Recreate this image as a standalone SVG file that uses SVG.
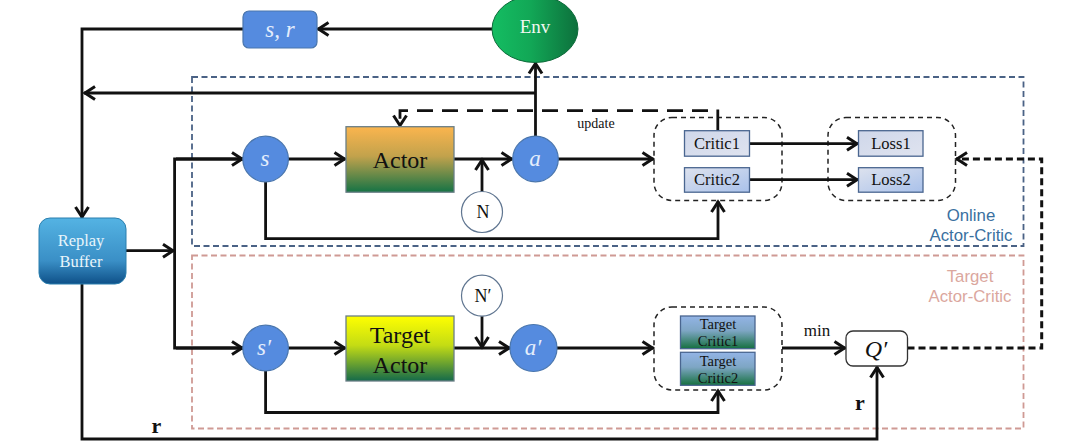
<svg xmlns="http://www.w3.org/2000/svg" width="1077" height="446" viewBox="0 0 1077 446">
<style>
text{font-family:"Liberation Serif","Times New Roman",serif;text-anchor:middle;fill:#111}
.sans{font-family:"Liberation Sans",Arial,sans-serif;font-size:16.8px}
.c{fill:none;stroke:#111;stroke-width:2.8;marker-end:url(#arrow)}
.p{fill:none;stroke:#111;stroke-width:2.8}
.dot{fill:#558bdf;stroke:#4a76ad;stroke-width:1.2}
.var{font-style:italic;fill:#e4eefc;font-size:23px}
.grp{fill:none;stroke:#222;stroke-width:1.5;stroke-dasharray:5 4}
.n{fill:#fff;stroke:#5f7590;stroke-width:1.2}
.box{stroke:#4a6690;stroke-width:1.3}
</style>
<defs>
<marker id="arrow" markerUnits="userSpaceOnUse" markerWidth="16" markerHeight="18" viewBox="0 0 16 18" refX="12.500" refY="9" orient="auto">
<path d="M1.500 2.500L11.500 9L1.500 15.500" fill="none" stroke="#111" stroke-width="3"/>
</marker>
<linearGradient id="gActor" x1="0" y1="0" x2="0" y2="1"><stop offset="0" stop-color="#fbb54e"/><stop offset=".45" stop-color="#c2a24c"/><stop offset="1" stop-color="#157345"/></linearGradient>
<linearGradient id="gTA" x1="0" y1="0" x2="0" y2="1"><stop offset="0" stop-color="#ffff00"/><stop offset=".45" stop-color="#c4dc14"/><stop offset="1" stop-color="#146a4a"/></linearGradient>
<linearGradient id="gTC" x1="0" y1="0" x2="0" y2="1"><stop offset="0" stop-color="#93b4e6"/><stop offset=".45" stop-color="#7ea6c4"/><stop offset="1" stop-color="#15703f"/></linearGradient>
<linearGradient id="gC1" x1="0" y1="0" x2="1" y2="1"><stop offset="0" stop-color="#cfd7ea"/><stop offset="1" stop-color="#dfe3ef"/></linearGradient>
<linearGradient id="gC2" x1="0" y1="0" x2="1" y2="1"><stop offset="0" stop-color="#dde2ee"/><stop offset="1" stop-color="#a9c1ea"/></linearGradient>
<linearGradient id="gRB" x1="0" y1="0" x2="0" y2="1"><stop offset="0" stop-color="#54b3e3"/><stop offset=".65" stop-color="#3a8fc6"/><stop offset="1" stop-color="#0e5088"/></linearGradient>
<linearGradient id="gEnv" x1="0" y1="0" x2="1" y2="0"><stop offset="0" stop-color="#14bd62"/><stop offset=".45" stop-color="#12a756"/><stop offset="1" stop-color="#0d703c"/></linearGradient>
</defs>

<g id="online-region">
<rect x="192" y="77" width="831.500" height="169" fill="none" stroke="#4a6285" stroke-width="1.8" stroke-dasharray="6 3.500"/>
<text class="sans" x="971" y="220.500" style="fill:#3a70a0">Online</text>
<text class="sans" x="971" y="240.500" style="fill:#3a70a0">Actor-Critic</text>
</g>
<g id="target-region">
<rect x="192" y="255.500" width="831.500" height="173" fill="none" stroke="#cf9a94" stroke-width="1.8" stroke-dasharray="6 3.500"/>
<text class="sans" x="970" y="282" style="fill:#dba79e">Target</text>
<text class="sans" x="970" y="302" style="fill:#dba79e">Actor-Critic</text>
</g>

<g id="critic-group"><rect class="grp" x="654" y="117.500" width="128" height="83" rx="18"/></g>
<g id="loss-group"><rect class="grp" x="828" y="117.500" width="127.500" height="83" rx="18"/></g>
<g id="target-critic-group"><rect class="grp" x="654" y="307" width="128" height="83" rx="18"/></g>

<g id="connectors">
<path class="c" d="M492 29H317.500"/>
<path class="c" d="M243 29H82V218"/>
<path class="c" d="M535 93H84"/>
<path class="c" d="M535.500 136V62.500"/>
<path class="c" d="M708 110.700H400V126.500" stroke-dasharray="16 9"/>
<path class="p" d="M717.800 130.500V109.500"/>
<path class="c" d="M288 159H345.500"/>
<path class="c" d="M454 159H512.500"/>
<path class="c" d="M482 192V159"/>
<path class="c" d="M558 159H653.500"/>
<path class="c" d="M265.600 182V238.700H718V201"/>
<path class="c" d="M749.500 143.700H858"/>
<path class="c" d="M749.500 179.700H858"/>
<path class="c" d="M126 250.700H174"/>
<path class="p" d="M243 159H174.600V348H243"/>
<path class="c" d="M176 159H243"/>
<path class="c" d="M176 348H243"/>
<path class="c" d="M288 348H345.500"/>
<path class="c" d="M454 348H510"/>
<path class="c" d="M482 316V348"/>
<path class="c" d="M557 348H653.500"/>
<path class="c" d="M265.600 371V412.500H718V390"/>
<path class="c" d="M782 348H845.500"/>
<path class="c" d="M82 284V439H877V366.500"/>
<path class="c" d="M907.500 348H1041.700V159H956" stroke-dasharray="7 4" style="stroke-width:3"/>
</g>

<g id="sr"><rect x="243" y="11" width="74" height="37" rx="6" fill="#558bdf" stroke="#4a76ad" stroke-width="1.200"/><text class="var" x="280" y="37">s, r</text></g>
<g id="env"><ellipse cx="535" cy="29" rx="43" ry="33.500" fill="url(#gEnv)" stroke="#0d6a3a" stroke-width="1"/><text x="535" y="33" font-size="19" style="fill:#f0f7f0">Env</text></g>
<g id="replay"><rect x="39" y="218" width="87" height="66" rx="11" fill="url(#gRB)" stroke="#2b7fae" stroke-width="1"/><text x="81" y="246" font-size="16.500" style="fill:#e8f5fb">Replay</text><text x="81" y="267" font-size="16.500" style="fill:#e8f5fb">Buffer</text></g>
<g id="s"><circle class="dot" cx="265.600" cy="159" r="22.800"/><text class="var" x="265" y="166">s</text></g>
<g id="actor"><rect x="346" y="126.700" width="108" height="65.500" fill="url(#gActor)" stroke="#6b7f86" stroke-width="1.300"/><text x="400" y="168" font-size="24">Actor</text></g>
<g id="noise"><circle class="n" cx="482" cy="212" r="20.500"/><text x="483" y="218" font-size="18">N</text></g>
<g id="a"><circle class="dot" cx="535.500" cy="159" r="22.800"/><text class="var" x="535" y="166">a</text></g>
<g id="critic1"><rect class="box" x="684.500" y="130.700" width="65" height="25.500" fill="url(#gC1)"/><text x="717" y="149" font-size="16.500">Critic1</text></g>
<g id="critic2"><rect class="box" x="684.500" y="167.700" width="65" height="24.500" fill="url(#gC2)"/><text x="717" y="185" font-size="16.500">Critic2</text></g>
<g id="loss1"><rect class="box" x="858.500" y="130.700" width="64.500" height="25.500" fill="url(#gC1)"/><text x="891" y="149" font-size="16.500">Loss1</text></g>
<g id="loss2"><rect class="box" x="858.500" y="167.700" width="64.500" height="24.500" fill="url(#gC2)"/><text x="891" y="185" font-size="16.500">Loss2</text></g>
<g id="update-label"><text x="596" y="128" font-size="14">update</text></g>

<g id="s-prime"><circle class="dot" cx="265.600" cy="348" r="22.800"/><text class="var" x="264" y="355">s′</text></g>
<g id="target-actor"><rect x="346" y="316" width="108" height="65" fill="url(#gTA)" stroke="#6b7f86" stroke-width="1.300"/><text x="400" y="343" font-size="24">Target</text><text x="400" y="373" font-size="24">Actor</text></g>
<g id="noise-prime"><circle class="n" cx="482" cy="295.700" r="20.500"/><text x="483" y="302" font-size="18">N′</text></g>
<g id="a-prime"><circle class="dot" cx="533.500" cy="348" r="23.500"/><text class="var" x="533" y="355">a′</text></g>
<g id="target-critic1"><rect class="box" x="680.500" y="316" width="74.500" height="32.700" fill="url(#gTC)"/><text x="718" y="328.500" font-size="14.500">Target</text><text x="718" y="346" font-size="14.500">Critic1</text></g>
<g id="target-critic2"><rect class="box" x="680.500" y="352.300" width="74.500" height="33" fill="url(#gTC)"/><text x="718" y="365.500" font-size="14.500">Target</text><text x="718" y="383" font-size="14.500">Critic2</text></g>
<g id="min-label"><text x="817" y="336" font-size="17">min</text></g>
<g id="q-prime"><rect x="846" y="331" width="61.500" height="35" rx="7" fill="#fff" stroke="#333" stroke-width="1.300"/><text x="876" y="357" font-size="24" font-style="italic">Q′</text></g>
<g id="r-labels"><text x="156.500" y="433" font-size="22" font-weight="bold">r</text><text x="860" y="410" font-size="22" font-weight="bold">r</text></g>
</svg>
